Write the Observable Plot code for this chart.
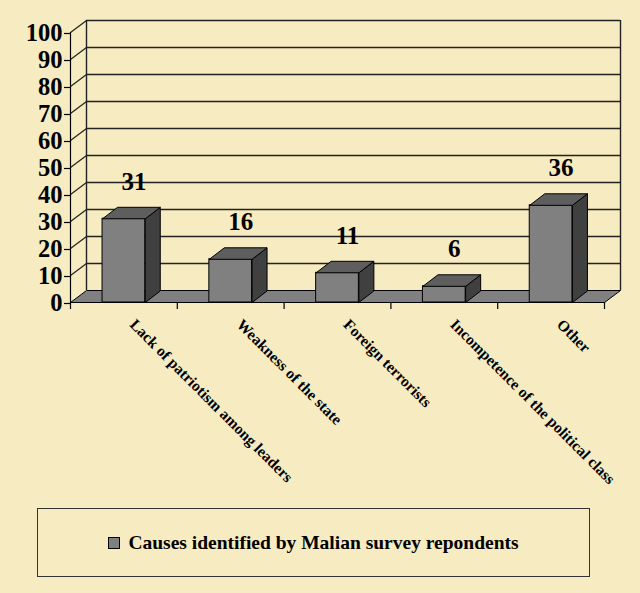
<!DOCTYPE html>
<html>
<head>
<meta charset="utf-8">
<script src="https://cdn.jsdelivr.net/npm/d3@7"></script>
<script src="https://cdn.jsdelivr.net/npm/@observablehq/plot@0.6"></script>
<style>
  html, body { margin: 0; padding: 0; background: #F7EBC1; width: 640px; height: 593px; overflow: hidden; }
  #chart { position: absolute; left: 0; top: 0; }
  #legend {
    position: absolute; left: 37px; top: 508px; width: 551px; height: 67px;
    border: 1.5px solid #333; display: flex; align-items: center; justify-content: center;
    font-family: "Liberation Serif", "Times New Roman", serif; font-weight: bold; font-size: 19.5px; color: #000;
  }
  #legend .sw { width: 10px; height: 10px; background: #808080; border: 1px solid #000; margin-right: 8px; }
</style>
</head>
<body>
<div id="chart"></div>
<div id="legend"><span class="sw"></span><span id="legend-text"></span></div>
<script>
// ---- data ----
const categories = [
  "Lack of patriotism among leaders",
  "Weakness of the state",
  "Foreign terrorists",
  "Incompetence of the political class",
  "Other"
];
const values = [31, 16, 11, 6, 36];
const yTicks = [0, 10, 20, 30, 40, 50, 60, 70, 80, 90, 100];
const seriesName = "Causes identified by Malian survey repondents";

// ---- layout ----
const W = 640, H = 500, mL = 70, mR = 36, mT = 32, mB = 198;
const n = categories.length;
const pxX = (W - mL - mR) / n;     // pixels per x unit
const pxY = (H - mT - mB) / 100;   // pixels per y unit
const DX = 16 / pxX, DY = 12 / pxY; // wall depth in data units
const BX = 15 / pxX, BY = 11.5 / pxY; // bar depth
const bw = 0.4;

const bars = values.map((v, i) => ({i, v, c: i + 0.5, l: i + 0.5 - bw / 2, r: i + 0.5 + bw / 2, name: categories[i]}));

const sidePts = bars.flatMap(b => [
  {z: b.i, x: b.r, y: 0}, {z: b.i, x: b.r, y: b.v}, {z: b.i, x: b.r + BX, y: b.v + BY},
  {z: b.i, x: b.r + BX, y: BY}, {z: b.i, x: b.r, y: 0}
]);
const topPts = bars.flatMap(b => [
  {z: b.i, x: b.l, y: b.v}, {z: b.i, x: b.r, y: b.v}, {z: b.i, x: b.r + BX, y: b.v + BY},
  {z: b.i, x: b.l + BX, y: b.v + BY}, {z: b.i, x: b.l, y: b.v}
]);
const floorPts = [
  {x: 0, y: 0}, {x: n, y: 0}, {x: n + DX, y: DY}, {x: DX, y: DY}, {x: 0, y: 0}
];
const gridLinks = yTicks.filter(t => t > 0);

const lineColor = "#222";

const chart = Plot.plot({
  width: W, height: H,
  marginLeft: mL, marginRight: mR, marginTop: mT, marginBottom: mB,
  style: {background: "transparent", fontFamily: "Liberation Serif, Times New Roman, serif", color: "#000", overflow: "visible"},
  x: {type: "linear", domain: [0, n]},
  y: {type: "linear", domain: [0, 100]},
  marks: [
    // back wall gridlines
    Plot.ruleY(gridLinks, {y: d => d + DY, x1: DX, x2: n + DX, stroke: lineColor, strokeWidth: 1.4}),
    // left wall diagonal connectors
    Plot.link(gridLinks, {x1: 0, y1: d => d, x2: DX, y2: d => d + DY, stroke: lineColor, strokeWidth: 1.2}),
    // back wall verticals
    Plot.ruleX([DX, n + DX], {x: d => d, y1: DY, y2: 100 + DY, stroke: lineColor, strokeWidth: 1.4}),
    // floor
    Plot.line(floorPts, {x: "x", y: "y", fill: "#808080", stroke: "#000", strokeWidth: 1}),
    // front y axis line
    Plot.ruleX([0], {y1: 0, y2: 100, stroke: "#000", strokeWidth: 1.2}),
    Plot.axisY({ticks: yTicks, tickSize: 6, tickPadding: 2, fontSize: 24.5, fontWeight: "bold", label: null, stroke: "#000", strokeWidth: 1.2, dy: 1}),
    Plot.axisX({ticks: d3.range(n + 1), tickSize: 7, tickFormat: () => "", label: null, stroke: "#000", strokeWidth: 1.2}),
    // bars: front, side, top
    Plot.rectY(bars, {x1: "l", x2: "r", y1: 0, y2: "v", fill: "#808080", stroke: "#000", strokeWidth: 1, inset: 0}),
    Plot.line(sidePts, {x: "x", y: "y", z: "z", fill: "#404040", stroke: "#000", strokeWidth: 1}),
    Plot.line(topPts, {x: "x", y: "y", z: "z", fill: "#5e5e5e", stroke: "#000", strokeWidth: 1}),
    // value labels
    Plot.text(bars, {x: "c", y: "v", text: d => String(d.v), dx: 10, dy: -37, fontSize: 25, fontWeight: "bold", fill: "#000"}),
    // category labels
    Plot.text(bars, {x: "c", y: 0, text: "name", rotate: 45, textAnchor: "start", lineAnchor: "bottom", dx: 5, dy: 23, fontSize: 15.5, fontWeight: "bold", fill: "#000"})
  ]
});
document.getElementById("chart").appendChild(chart);
document.getElementById("legend-text").textContent = seriesName;
</script>
</body>
</html>
